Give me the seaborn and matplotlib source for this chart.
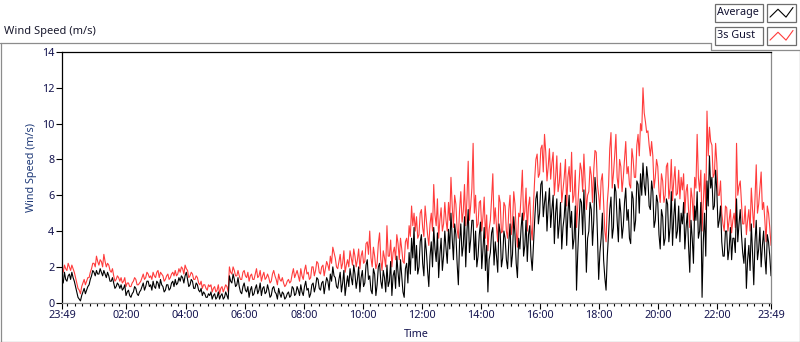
import numpy as np
import pandas as pd
import matplotlib
matplotlib.use("Agg")
import matplotlib.pyplot as plt
import seaborn as sns
from matplotlib.lines import Line2D
from matplotlib.patches import Rectangle
from matplotlib.ticker import FixedLocator

# ---------------- data (starting 23:49) ----------------
# samples on the 5-minute grid (23:49, 23:54, ...), last value at 23:49 next day
step_min = 5
average_ms = [
    1.4, 1.7, 1.2, 1.6, 1.7, 1.2, 0.6, 0.2, 0.4, 0.8, 0.7, 1.0,
    1.5, 1.7, 1.8, 1.6, 1.7, 1.8, 1.4, 1.5, 1.2, 1.1, 0.9, 1.0,
    1.0, 0.8, 0.4, 0.7, 0.3, 0.6, 0.8, 0.4, 0.7, 1.1, 0.9, 1.2,
    1.0, 1.2, 0.8, 1.1, 1.3, 0.9, 0.7, 1.0, 0.8, 1.2, 1.3, 1.1,
    1.2, 1.4, 1.5, 1.3, 1.0, 1.2, 0.8, 1.0, 0.6, 0.4, 0.5, 0.3,
    0.4, 0.2, 0.5, 0.3, 0.2, 0.5, 0.3, 0.4, 1.5, 1.1, 1.3, 1.0,
    0.9, 0.5, 1.1, 0.6, 0.3, 0.9, 0.5, 1.0, 0.7, 0.4, 0.9, 0.6,
    0.7, 0.4, 0.9, 0.5, 0.8, 0.3, 0.5, 0.3, 0.6, 0.4, 0.8, 0.5,
    0.7, 1.0, 0.4, 1.2, 0.8, 0.5, 1.1, 0.9, 1.3, 0.7, 1.2, 1.0,
    1.2, 1.6, 2.0, 1.4, 0.8, 1.7, 1.1, 0.4, 1.5, 1.9, 1.0, 1.6,
    1.3, 0.6, 1.8, 1.1, 2.4, 1.5, 0.5, 1.6, 1.0, 2.2, 0.8, 1.4,
    2.1, 1.2, 0.4, 1.8, 2.6, 0.9, 1.5, 0.3, 2.2, 2.8, 3.6, 4.2,
    3.2, 2.0, 3.8, 1.5, 2.9, 0.9, 3.4, 4.2, 2.3, 1.4, 3.6, 2.6,
    3.0, 4.1, 5.0, 2.4, 3.8, 1.0, 4.4, 3.2, 2.0, 5.2, 3.5, 4.6,
    4.0, 2.6, 4.5, 3.0, 1.8, 0.6, 2.8, 4.2, 3.4, 1.7, 3.9, 2.5,
    3.6, 1.9, 4.4, 2.7, 3.8, 1.4, 3.0, 5.0, 3.2, 2.3, 4.3, 1.8,
    4.6, 6.2, 5.0, 6.8, 5.6, 4.0, 6.4, 5.2, 3.3, 5.8, 4.4, 3.0,
    4.8, 3.2, 6.0, 5.1, 3.6, 0.7, 4.4, 5.6, 6.3, 1.7, 4.0, 5.2,
    4.6, 6.0, 1.3, 3.6, 2.4, 0.7, 3.8, 5.9, 4.2, 6.2, 3.4, 5.0,
    4.3, 6.4, 5.2, 3.3, 5.8, 4.6, 6.6, 7.2, 7.8, 6.0, 6.9, 5.2,
    6.2, 4.6, 5.6, 3.0, 4.8, 3.6, 5.5, 4.2, 3.2, 5.8, 4.0, 3.4,
    4.4, 3.0, 5.0, 1.7, 3.6, 5.4, 6.2, 4.0, 0.3, 5.0, 6.8, 8.2,
    7.0, 5.4, 6.2, 4.6, 3.4, 2.6, 4.0, 3.0, 2.4, 3.6, 5.8, 4.4,
    3.8, 2.2, 0.8, 3.2, 4.4, 1.0, 4.6, 3.0, 2.0, 4.0, 1.6, 3.4,
    1.5,
]
# readings halfway between the 5-minute samples (23:51.5, 23:56.5, ...)
average_mid_ms = [
    1.1, 1.3, 1.5, 1.3, 1.4, 0.9, 0.3, 0.1, 0.6, 0.5, 0.9, 1.3,
    1.8, 1.5, 1.6, 1.9, 1.5, 1.6, 1.7, 1.2, 1.4, 0.8, 1.1, 0.8,
    0.7, 1.0, 0.6, 0.4, 0.5, 0.9, 0.5, 0.6, 0.9, 0.7, 1.2, 0.9,
    0.7, 0.9, 1.2, 0.8, 1.0, 0.6, 1.0, 0.7, 1.1, 0.9, 1.0, 1.4,
    1.5, 1.1, 1.7, 0.9, 1.3, 0.8, 1.1, 0.7, 0.8, 0.6, 0.3, 0.5,
    0.6, 0.4, 0.2, 0.6, 0.4, 0.2, 0.6, 0.2, 1.2, 1.6, 0.9, 1.4,
    0.6, 0.9, 0.7, 0.9, 0.7, 0.4, 0.8, 0.5, 1.1, 0.8, 0.5, 1.0,
    0.3, 0.8, 0.6, 0.2, 0.5, 0.6, 0.2, 0.5, 0.3, 0.9, 0.4, 0.9,
    0.4, 0.6, 0.9, 0.7, 0.3, 1.0, 0.6, 1.4, 0.8, 1.1, 0.5, 1.4,
    0.7, 1.2, 1.5, 0.9, 1.3, 0.6, 1.8, 1.0, 0.9, 1.4, 2.1, 0.8,
    2.0, 1.4, 0.9, 2.1, 1.3, 0.7, 1.9, 0.4, 2.0, 1.2, 1.8, 0.6,
    0.9, 2.3, 1.5, 0.8, 1.7, 2.4, 0.6, 1.9, 1.1, 1.6, 2.5, 1.8,
    1.6, 3.4, 2.2, 3.6, 1.8, 2.6, 2.0, 3.0, 3.9, 2.7, 1.8, 4.0,
    2.2, 3.0, 3.6, 4.4, 2.2, 3.4, 2.6, 4.8, 4.0, 2.8, 4.6, 2.4,
    2.0, 3.8, 1.9, 4.2, 3.2, 2.4, 3.9, 2.1, 2.6, 4.4, 2.0, 4.0,
    2.4, 3.4, 2.0, 4.8, 2.2, 3.6, 4.2, 2.6, 4.6, 3.8, 2.6, 3.2,
    5.8, 4.4, 6.6, 4.8, 6.2, 5.4, 4.2, 6.0, 5.0, 3.6, 5.6, 4.2,
    6.0, 5.0, 4.2, 3.0, 5.4, 2.8, 5.8, 3.8, 4.4, 3.6, 5.6, 3.2,
    7.0, 3.8, 2.8, 5.0, 1.4, 2.6, 5.2, 3.6, 6.6, 4.6, 5.8, 3.6,
    5.6, 4.6, 3.6, 6.2, 4.0, 6.8, 5.0, 6.0, 6.6, 7.6, 5.4, 6.8,
    4.2, 6.0, 3.8, 5.2, 3.2, 5.8, 3.4, 6.2, 4.8, 3.6, 5.4, 5.0,
    5.6, 4.2, 3.2, 4.6, 2.2, 4.6, 3.6, 5.6, 3.4, 2.6, 5.4, 6.4,
    5.2, 7.4, 4.2, 5.4, 2.6, 4.0, 2.4, 4.2, 3.6, 2.8, 3.4, 5.2,
    2.8, 3.6, 2.4, 1.8, 2.8, 3.4, 2.4, 4.2, 3.2, 2.6, 3.8, 2.6,
]
gust_ms = [
    1.9, 2.1, 1.8, 2.0, 2.1, 1.7, 1.1, 0.7, 0.9, 1.3, 1.2, 1.4,
    1.9, 2.2, 2.6, 2.1, 2.3, 2.7, 2.0, 2.1, 1.7, 1.5, 1.3, 1.4,
    1.4, 1.2, 0.9, 1.1, 0.9, 1.2, 1.3, 1.0, 1.2, 1.6, 1.4, 1.6,
    1.5, 1.7, 1.4, 1.8, 1.7, 1.5, 1.3, 1.6, 1.4, 1.7, 1.8, 1.6,
    1.7, 1.9, 2.1, 1.8, 1.5, 1.6, 1.3, 1.4, 1.0, 0.8, 1.0, 0.7,
    0.9, 0.6, 0.9, 0.7, 0.5, 0.9, 0.8, 0.9, 2.0, 1.6, 1.8, 1.5,
    1.5, 1.3, 1.8, 1.4, 1.2, 1.6, 1.3, 1.9, 1.5, 1.2, 1.7, 1.4,
    1.4, 1.2, 1.8, 1.3, 1.6, 1.2, 1.1, 1.0, 1.3, 1.2, 1.9, 1.6,
    1.5, 1.9, 1.3, 2.1, 1.7, 1.4, 2.0, 1.8, 2.2, 1.6, 2.1, 1.9,
    2.1, 2.6, 3.1, 2.5, 1.9, 2.7, 2.2, 1.7, 2.4, 2.9, 2.1, 2.6,
    2.4, 1.9, 2.9, 2.3, 3.4, 4.0, 2.0, 2.6, 2.2, 3.9, 1.8, 2.5,
    4.3, 2.6, 2.0, 3.1, 3.8, 2.4, 3.0, 2.2, 3.6, 4.3, 5.4, 5.0,
    4.8, 3.8, 5.2, 3.7, 4.6, 3.2, 5.0, 6.6, 4.3, 3.6, 5.3, 4.4,
    4.6, 5.6, 7.0, 4.2, 5.5, 3.6, 6.2, 5.1, 4.3, 7.9, 5.4, 8.9,
    6.0, 4.4, 5.7, 4.8, 3.6, 2.9, 4.6, 7.2, 5.3, 3.4, 5.6, 4.0,
    5.4, 3.6, 6.0, 4.4, 5.5, 3.1, 4.8, 7.4, 5.1, 4.0, 5.9, 3.5,
    6.9, 8.3, 7.2, 8.8, 9.4, 6.8, 8.6, 7.8, 6.0, 8.2, 6.7, 5.6,
    7.0, 5.4, 7.6, 8.4, 6.0, 4.2, 6.5, 7.4, 8.3, 5.2, 6.2, 7.1,
    7.4, 8.4, 6.0, 6.8, 5.6, 3.4, 6.5, 9.5, 7.2, 9.4, 6.4, 7.6,
    7.0, 9.0, 7.6, 6.4, 8.0, 7.0, 9.4, 10.0, 12.0, 10.1, 9.6, 8.2,
    8.2, 7.0, 7.6, 5.6, 6.8, 6.0, 7.8, 6.4, 5.7, 7.6, 6.1, 5.8,
    6.3, 5.0, 6.6, 4.2, 5.8, 7.0, 9.4, 6.2, 4.0, 7.2, 10.7, 9.8,
    8.8, 7.2, 7.8, 6.0, 5.0, 4.0, 5.3, 4.6, 3.9, 5.0, 8.9, 6.5,
    5.6, 4.4, 3.8, 5.2, 6.4, 4.2, 7.7, 5.5, 7.3, 5.6, 3.4, 5.0,
    3.2,
]
gust_mid_ms = [
    1.7, 1.9, 2.2, 1.8, 1.9, 1.4, 0.8, 0.5, 1.1, 1.0, 1.4, 1.7,
    2.2, 2.0, 2.3, 2.4, 2.0, 2.3, 2.2, 1.8, 1.9, 1.2, 1.5, 1.2,
    1.1, 1.4, 1.1, 0.9, 1.1, 1.4, 1.0, 1.1, 1.4, 1.3, 1.7, 1.4,
    1.3, 1.5, 1.7, 1.4, 1.6, 1.2, 1.5, 1.3, 1.6, 1.5, 1.5, 1.9,
    2.0, 1.6, 1.9, 1.4, 1.7, 1.3, 1.5, 1.1, 1.2, 1.0, 0.8, 1.0,
    1.0, 0.8, 0.6, 1.0, 0.8, 0.6, 1.0, 0.6, 1.7, 2.0, 1.5, 1.8,
    1.3, 1.7, 1.5, 1.7, 1.5, 1.3, 1.6, 1.4, 1.8, 1.5, 1.3, 1.6,
    1.1, 1.6, 1.5, 1.0, 1.3, 1.4, 0.9, 1.2, 1.1, 1.6, 1.4, 1.8,
    1.2, 1.5, 1.8, 1.6, 1.3, 2.0, 1.5, 2.3, 1.7, 2.0, 1.5, 2.3,
    1.8, 2.2, 2.8, 2.0, 2.3, 1.9, 2.9, 2.1, 2.0, 2.5, 3.0, 2.0,
    3.0, 2.6, 2.2, 3.3, 2.7, 2.5, 3.1, 1.9, 3.3, 2.4, 2.9, 2.0,
    2.6, 3.5, 2.8, 2.4, 3.3, 3.6, 2.3, 3.4, 3.0, 3.7, 4.3, 4.0,
    3.6, 5.0, 4.2, 5.4, 3.8, 4.4, 4.0, 4.9, 5.8, 4.6, 4.0, 5.6,
    4.0, 4.6, 5.4, 6.0, 4.1, 5.2, 4.5, 6.6, 5.8, 4.6, 6.4, 5.0,
    4.2, 5.6, 4.0, 5.9, 4.9, 4.1, 5.8, 4.4, 4.2, 6.0, 3.9, 5.6,
    4.0, 5.2, 3.8, 6.2, 4.0, 5.0, 6.0, 4.6, 6.4, 5.4, 4.2, 5.4,
    8.0, 7.0, 8.6, 7.3, 8.4, 7.6, 6.9, 8.4, 7.0, 6.2, 7.8, 6.3,
    8.0, 7.0, 6.2, 5.6, 7.4, 5.4, 7.8, 6.2, 6.8, 6.0, 7.6, 5.6,
    8.5, 6.6, 5.2, 7.2, 4.0, 5.6, 8.6, 6.4, 8.2, 7.0, 8.0, 6.2,
    8.0, 7.2, 6.6, 8.6, 7.0, 8.8, 8.2, 9.6, 10.6, 9.5, 8.8, 9.0,
    6.4, 8.0, 6.2, 7.2, 5.6, 7.6, 5.8, 8.0, 6.8, 6.0, 7.4, 7.0,
    7.2, 6.2, 5.2, 6.4, 4.6, 6.4, 7.0, 7.4, 5.6, 5.2, 8.2, 9.0,
    7.0, 8.9, 6.0, 6.8, 4.4, 5.4, 4.0, 5.2, 4.6, 4.2, 6.0, 6.8,
    4.4, 5.4, 4.6, 4.0, 5.2, 5.8, 5.0, 6.4, 5.2, 4.6, 5.4, 4.2,
]
tick_labels = ["23:49", "02:00", "04:00", "06:00", "08:00", "10:00", "12:00",
               "14:00", "16:00", "18:00", "20:00", "22:00", "23:49"]
tick_minutes = [0, 131, 251, 371, 491, 611, 731, 851, 971, 1091, 1211, 1331, 1440]
y_ticks = [0, 2, 4, 6, 8, 10, 12, 14]


def merge(grid, mid):
    out = []
    for a, b in zip(grid[:-1], mid):
        out += [a, b]
    return out + [grid[-1]]


avg_all = merge(average_ms, average_mid_ms)
gust_all = merge(gust_ms, gust_mid_ms)
t = np.arange(len(avg_all)) * (step_min / 2)
df = pd.DataFrame({"t": t, "Average": avg_all, "3s Gust": gust_all})

# ---------------- style ----------------
sns.set_theme(style="white")
plt.rcParams["font.family"] = ["Noto Sans", "DejaVu Sans"]

W, H = 800, 342
fig = plt.figure(figsize=(W / 100, H / 100), dpi=100)
fig.patch.set_facecolor("white")


def fx(px):
    return px / W


def fy(py):
    return 1 - py / H


left, right, top, bottom = 62, 771, 52, 302.7
ax = fig.add_axes([fx(left), fy(bottom), (right - left) / W, (bottom - top) / H])
ax.set_facecolor("white")

sns.lineplot(data=df, x="t", y="3s Gust", color="#ff3c3c", linewidth=0.8,
             estimator=None, ax=ax)
sns.lineplot(data=df, x="t", y="Average", color="black", linewidth=0.8,
             estimator=None, ax=ax)

ax.set_xlim(0, 1440)
ax.set_ylim(0, 14)
ax.set_xticks(tick_minutes)
ax.set_xticklabels(tick_labels)
ax.xaxis.set_minor_locator(FixedLocator(list(range(11, 1440, 15))))
ax.set_yticks(y_ticks)
ax.set_yticklabels([str(v) for v in y_ticks])

lab_col = "#141450"
ax.tick_params(axis="both", which="major", direction="out", length=4,
               width=0.8, color="black", labelsize=7.8, labelcolor=lab_col, pad=1.5)
ax.tick_params(axis="x", which="minor", direction="out", length=2.5,
               width=0.8, color="black", bottom=True)
ax.tick_params(axis="x", which="major", bottom=True, pad=1.5)
ax.tick_params(axis="y", which="major", left=True)

for side, col in (("left", "black"), ("top", "black"),
                  ("right", "#8a8a8a"), ("bottom", "#8a8a8a")):
    ax.spines[side].set_visible(True)
    ax.spines[side].set_color(col)
    ax.spines[side].set_linewidth(0.9)

ax.set_xlabel("Time", fontsize=7.8, color=lab_col)
ax.set_ylabel("Wind Speed (m/s)", fontsize=7.8, color="#1f3a78")
ax.xaxis.label.set_va("center")
ax.yaxis.label.set_va("center")
ax.xaxis.set_label_coords(0.5, -0.125)
ax.yaxis.set_label_coords(-0.0427, 0.539)
ax.grid(False)

# ---------------- panel frame ----------------
gray = "#8c8c8c"
frame_lines = [
    ((0, 711), (42.5, 42.5)),
    ((711, 711), (42.5, 49.5)),
    ((711, 800), (49.5, 49.5)),
    ((0.5, 0.5), (42.5, 342)),
    ((799.5, 799.5), (49.5, 342)),
    ((0, 800), (341.5, 341.5)),
]
for xs, ys in frame_lines:
    fig.add_artist(Line2D([fx(x) for x in xs], [fy(y) for y in ys],
                          color=gray, linewidth=0.9))

fig.text(fx(4), fy(31.5), "Wind Speed (m/s)", fontsize=8, color="#1a1a2e",
         ha="left", va="center")

# ---------------- legend (LabVIEW-style plot legend) ----------------
legend_rows = [("Average", "black", 4, 21.5), ("3s Gust", "#ff3c3c", 27, 44.5)]
for name, col, y0, y1 in legend_rows:
    fig.add_artist(Rectangle((fx(715), fy(y1)), (762.5 - 715) / W, (y1 - y0) / H,
                             facecolor="white", edgecolor="#6e6e6e", linewidth=0.9))
    fig.add_artist(Rectangle((fx(767), fy(y1)), (796 - 767) / W, (y1 - y0) / H,
                             facecolor="white", edgecolor="#6e6e6e", linewidth=0.9))
    fig.text(fx(717), fy((y0 + y1) / 2), name, fontsize=7.8, color="#101030",
             ha="left", va="center")
    gx = [770, 778, 786, 793]
    hgt = y1 - y0
    gy = [y0 + 0.75 * hgt, y0 + 0.3 * hgt, y0 + 0.75 * hgt, y0 + 0.2 * hgt]
    fig.add_artist(Line2D([fx(x) for x in gx], [fy(y) for y in gy],
                          color=col, linewidth=0.8))

fig.savefig("out.png", dpi=100, facecolor="white")
